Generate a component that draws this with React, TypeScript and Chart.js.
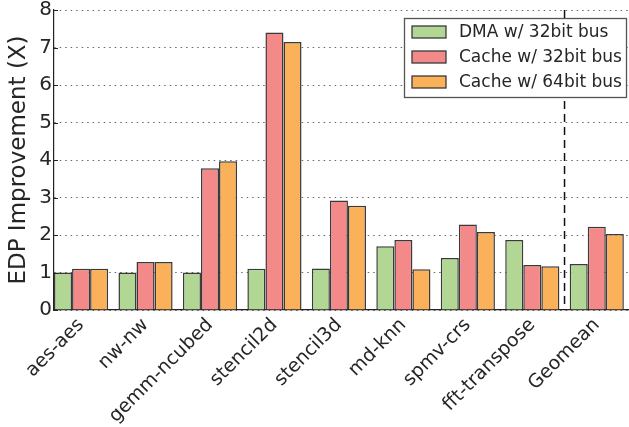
import React, { useEffect, useRef } from "react";
import { Chart, registerables } from "chart.js";

Chart.register(...registerables);

const categories = ["aes-aes", "nw-nw", "gemm-ncubed", "stencil2d", "stencil3d", "md-knn", "spmv-crs", "fft-transpose", "Geomean"];
const seriesLabels = ["DMA w/ 32bit bus", "Cache w/ 32bit bus", "Cache w/ 64bit bus"];
const dma32 = [1.0, 1.0, 1.0, 1.1, 1.11, 1.7, 1.39, 1.87, 1.23];
const cache32 = [1.1, 1.28, 3.78, 7.4, 2.92, 1.87, 2.28, 1.2, 2.22];
const cache64 = [1.1, 1.28, 3.97, 7.15, 2.78, 1.09, 2.08, 1.17, 2.03];
const yTicks = [0, 1, 2, 3, 4, 5, 6, 7, 8];
const separatorAt = 7.5;

const colors = ["#b2d794", "#f4898a", "#fbb05a"];
const edge = "#3a3a3a";
const textColor = "#262626";
const FONT = "'DejaVu Sans', sans-serif";

const overlayPlugin = {
  id: "overlay",
  afterDatasetsDraw(chart: any) {
    const { ctx, chartArea, scales } = chart;
    const x = scales.x;
    const y = scales.y;
    ctx.save();
    ctx.strokeStyle = "#222";
    ctx.lineWidth = 1;
    for (const t of yTicks) {
      const py = Math.round(y.getPixelForValue(t)) + 0.5;
      ctx.beginPath();
      ctx.moveTo(chartArea.left, py);
      ctx.lineTo(chartArea.left + 4, py);
      ctx.stroke();
    }
    const px = x.getPixelForValue(separatorAt);
    ctx.strokeStyle = "#111";
    ctx.lineWidth = 1.5;
    ctx.setLineDash([8, 5]);
    ctx.beginPath();
    ctx.moveTo(px, chartArea.top);
    ctx.lineTo(px, chartArea.bottom);
    ctx.stroke();
    ctx.restore();
  },
  afterDraw(chart: any) {
    const { ctx, chartArea } = chart;
    const boxR = chartArea.right - 2;
    const boxW = 223;
    const boxL = boxR - boxW;
    const boxT = chartArea.top + 8;
    const boxH = 80;
    ctx.save();
    ctx.fillStyle = "#ffffff";
    ctx.fillRect(boxL, boxT, boxW, boxH);
    ctx.strokeStyle = "#555";
    ctx.lineWidth = 1.3;
    ctx.strokeRect(boxL + 0.5, boxT + 0.5, boxW - 1, boxH - 1);
    ctx.font = `17px ${FONT}`;
    ctx.textBaseline = "middle";
    ctx.textAlign = "left";
    chart.data.datasets.forEach((ds: any, i: number) => {
      const cy = boxT + 14 + i * 25;
      ctx.fillStyle = ds.backgroundColor;
      ctx.fillRect(boxL + 8, cy - 6, 34, 12);
      ctx.strokeStyle = edge;
      ctx.lineWidth = 1.3;
      ctx.strokeRect(boxL + 8, cy - 6, 34, 12);
      ctx.fillStyle = textColor;
      ctx.fillText(ds.label, boxL + 55, cy + 1);
    });
    ctx.restore();
  },
};

export default function App() {
  const ref = useRef<HTMLCanvasElement | null>(null);
  useEffect(() => {
    document.body.style.margin = "0";
    const canvas = ref.current;
    if (!canvas) return;
    const mk = (vals: number[]) => vals.map((v, i) => ({ x: i, y: v }));
    const chart = new Chart(canvas, {
      type: "bar",
      data: {
        datasets: [dma32, cache32, cache64].map((vals, i) => ({
          label: seriesLabels[i],
          data: mk(vals),
          backgroundColor: colors[i],
          borderColor: edge,
          borderWidth: 1.5,
          categoryPercentage: 0.84,
          barPercentage: 1,
        })),
      },
      options: {
        animation: false,
        responsive: false,
        maintainAspectRatio: false,
        layout: { padding: { top: 10, left: 0, right: 0, bottom: 0 } },
        plugins: { legend: { display: false }, tooltip: { enabled: false } },
        scales: {
          x: {
            type: "linear",
            min: -0.42,
            max: 8.5,
            offset: false,
            grid: { display: false },
            border: { display: true, color: "#222", width: 1.2 },
            afterBuildTicks: (scale: any) => {
              scale.ticks = categories.map((_, i) => ({ value: i }));
            },
            afterFit: (scale: any) => {
              scale.height = 117;
            },
            ticks: {
              autoSkip: false,
              minRotation: 45,
              maxRotation: 45,
              padding: -4,
              color: textColor,
              font: { family: FONT, size: 19 },
              callback: (v: any) => categories[Math.round(Number(v))] ?? "",
            },
          },
          y: {
            min: 0,
            max: 8,
            grid: { display: true, color: "#666", lineWidth: 1, drawTicks: false },
            border: { display: true, color: "#222", width: 1.2, dash: [1.5, 4] },
            afterBuildTicks: (scale: any) => {
              scale.ticks = yTicks.map((v) => ({ value: v }));
            },
            afterFit: (scale: any) => {
              scale.width = 54;
              scale.paddingTop = 0;
              scale.paddingBottom = 0;
            },
            ticks: {
              padding: 2,
              color: textColor,
              font: { family: FONT, size: 20 },
            },
            title: {
              display: true,
              text: "EDP Improvement (X)",
              color: textColor,
              font: { family: FONT, size: 23 },
              padding: { top: 5, bottom: 0 },
            },
          },
        },
      },
      plugins: [overlayPlugin],
    } as any);
    return () => chart.destroy();
  }, []);
  return (
    <div style={{ width: 629, height: 427, background: "#fff" }}>
      <canvas ref={ref} width={629} height={427} />
    </div>
  );
}
